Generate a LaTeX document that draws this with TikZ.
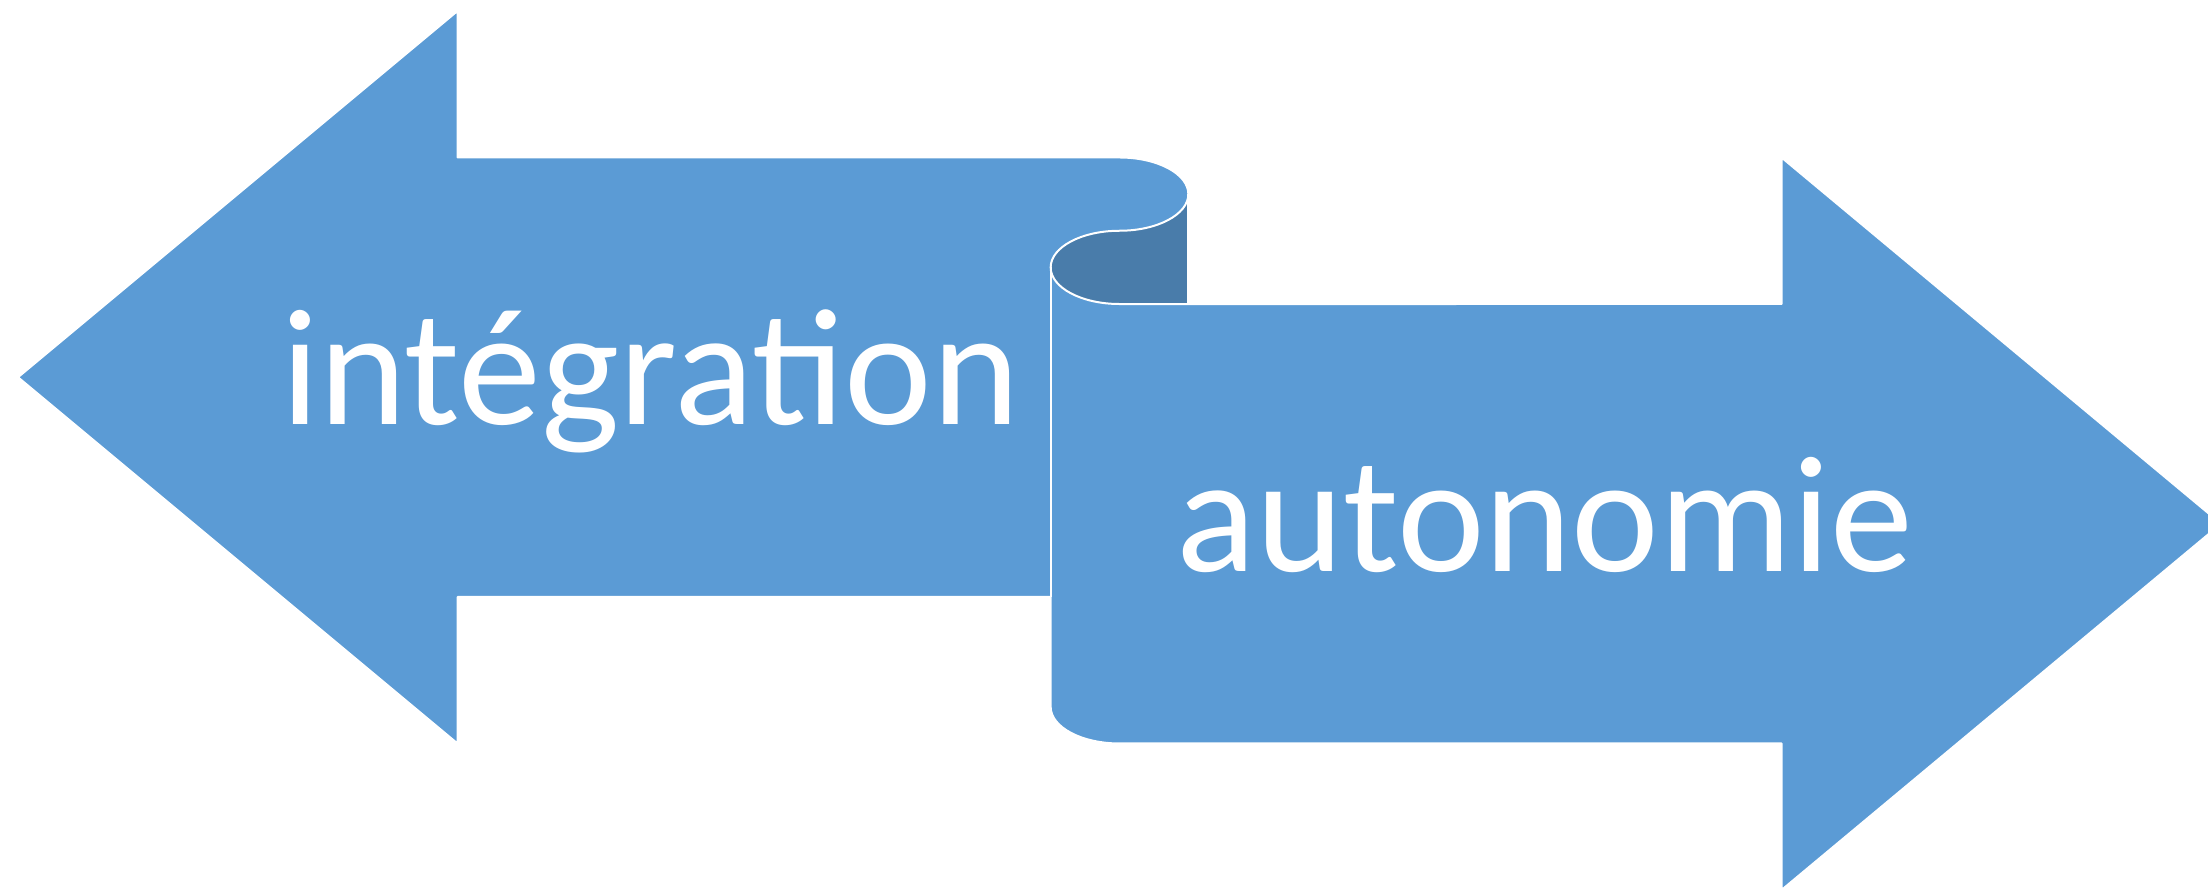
\documentclass[tikz,border=0pt]{standalone}
\usepackage{fontspec}
\setmainfont{Carlito}
\definecolor{ribbonlight}{RGB}{91,155,213}
\definecolor{ribbondark}{RGB}{73,124,170}
\tikzset{
  ribbonfill/.style={fill=ribbonlight},
  curlfill/.style={fill=ribbondark},
  ribbonedge/.style={draw=white, line width=2pt, line join=round},
  ribbontext/.style={text=white, inner sep=0pt, font=\fontsize{166}{166}\selectfont}
}
\begin{document}
\begin{tikzpicture}[x=1pt,y=1pt]
\useasboundingbox (0,0) rectangle (2208,888);
\begin{scope}
\clip (0,0) rectangle (2208,888);
% main ribbon outline (PowerPoint leftRightRibbon geometry)
\def\ribbonpath{(18,510.75) -- (457.5,877) -- (457.5,730.5) -- (1119.5,730.5)
  arc[start angle=90,end angle=-90,x radius=68.84pt,y radius=36.63pt]
  arc[start angle=90,end angle=270,x radius=68.84pt,y radius=36.63pt]
  -- (1781.5,584) -- (1781.5,730.5) -- (2221,364.25) -- (1781.5,-2)
  -- (1781.5,144.5) -- (1119.5,144.5)
  arc[start angle=270,end angle=180,x radius=68.84pt,y radius=36.63pt]
  -- (1050.66,291) -- (457.5,291) -- (457.5,144.5) -- cycle}
\path[ribbonfill] \ribbonpath;
% darker inside of the curl
\path[curlfill] (1188.34,693.87)
  arc[start angle=0,end angle=-90,x radius=68.84pt,y radius=36.63pt]
  arc[start angle=90,end angle=270,x radius=68.84pt,y radius=36.63pt]
  -- (1188.34,584) -- cycle;
% white edges
\path[ribbonedge] \ribbonpath;
\coordinate (c3a) at (1188.34,693.87);
\coordinate (c3b) at (1188.34,584);
\coordinate (c2a) at (1050.66,620.63);
\coordinate (c2b) at (1050.66,291);
\draw[ribbonedge] (c3a) -- (c3b);
\draw[ribbonedge] (c2a) -- (c2b);
\end{scope}
\node[ribbontext, anchor=base west] (integ) at (281,463) {intégration};
\node[ribbontext, anchor=base east] (auto) at (1913,316) {autonomie};
\end{tikzpicture}
\end{document}
